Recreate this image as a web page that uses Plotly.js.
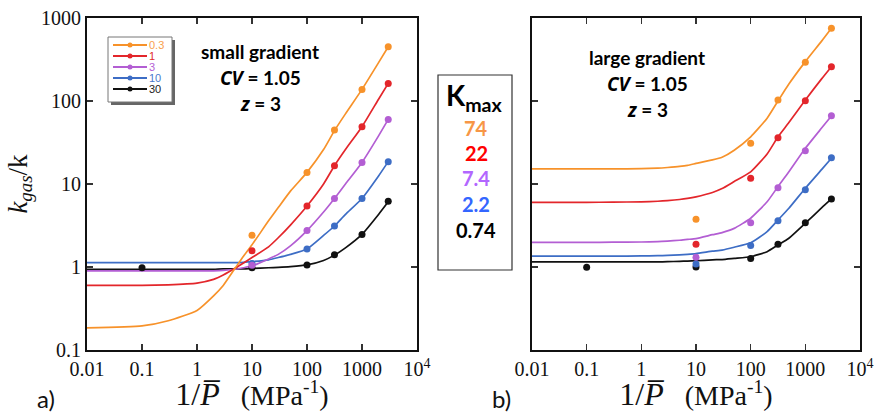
<!DOCTYPE html>
<html>
<head>
<meta charset="utf-8">
<script src="https://cdn.plot.ly/plotly-3.0.1.min.js"></script>
<style>html,body{margin:0;padding:0;background:#fff;}#chart{width:878px;height:412px;}</style>
</head>
<body>
<div id="chart"></div>
<script>
// ---------- data ----------
const seriesNames = ["0.3", "1", "3", "10", "30"];
const kmaxLabels = ["74", "22", "7.4", "2.2", "0.74"];
const xTickVals = [0.01, 0.1, 1, 10, 100, 1000, 10000];
const xTickText = ["0.01", "0.1", "1", "10", "100", "1000", "10<sup>4</sup>"];
const yTickVals = [0.1, 1, 10, 100, 1000];
const yTickText = ["0.1", "1", "10", "100", "1000"];

const curveX = [0.01, 0.1, 0.3, 1, 2, 3, 5, 7, 10, 20, 30, 50, 100, 200, 316, 500, 1000, 2000, 3000];
const pointX = [10, 100, 316, 1000, 3000];
const pointXBlack = [0.1, 10, 100, 316, 1000, 3000];

// panel a) small gradient
const aOrangeCurve = [0.185, 0.195, 0.225, 0.30, 0.45, 0.6, 0.98, 1.35, 1.85, 3.6, 5.2, 8.2, 13.8, 26, 44, 70, 138, 290, 450];
const aRedCurve    = [0.6, 0.6, 0.61, 0.64, 0.71, 0.8, 0.97, 1.12, 1.3, 1.75, 2.25, 3.2, 5.43, 10, 16.6, 26, 49, 105, 163];
const aPurpleCurve = [0.9, 0.9, 0.9, 0.9, 0.9, 0.91, 0.94, 0.98, 1.03, 1.25, 1.42, 1.8, 2.75, 4.6, 6.7, 10, 18.2, 38, 60];
const aBlueCurve   = [1.13, 1.13, 1.13, 1.13, 1.13, 1.13, 1.13, 1.14, 1.16, 1.22, 1.3, 1.42, 1.65, 2.4, 3.12, 4.3, 6.7, 12.5, 18.6];
const aBlackCurve  = [0.94, 0.94, 0.94, 0.94, 0.94, 0.95, 0.95, 0.95, 0.96, 0.98, 0.99, 1.01, 1.06, 1.2, 1.39, 1.7, 2.47, 4.3, 6.1];
const aOrangePts = [2.41, 13.8, 44.8, 138, 451];
const aRedPts    = [1.57, 5.43, 16.6, 49, 163];
const aPurplePts = [1.05, 2.75, 6.7, 18.2, 60];
const aBluePts   = [1.1, 1.65, 3.12, 6.7, 18.6];
const aBlackPts  = [0.98, 0.98, 1.06, 1.4, 2.47, 6.2];

// panel b) large gradient
const bOrangeCurve = [15.2, 15.2, 15.2, 15.3, 15.5, 15.8, 16.3, 16.8, 17.7, 19.5, 21, 25.5, 37, 62, 100, 160, 298, 530, 752];
const bRedCurve    = [6.0, 6.0, 6.05, 6.1, 6.2, 6.3, 6.5, 6.7, 7.0, 7.9, 8.8, 10.7, 14, 23, 37, 55, 103, 186, 259];
const bPurpleCurve = [1.98, 1.98, 1.99, 2.0, 2.02, 2.05, 2.1, 2.15, 2.2, 2.45, 2.6, 2.92, 3.87, 6.1, 9.3, 14, 26.9, 47.5, 66];
const bBlueCurve   = [1.35, 1.35, 1.35, 1.36, 1.37, 1.38, 1.4, 1.42, 1.45, 1.55, 1.6, 1.73, 1.96, 2.67, 3.68, 5.1, 8.9, 15.0, 20.4];
const bBlackCurve  = [1.15, 1.15, 1.15, 1.15, 1.15, 1.16, 1.17, 1.18, 1.19, 1.22, 1.23, 1.27, 1.33, 1.53, 1.84, 2.22, 3.37, 5.18, 6.6];
const bOrangePts = [3.76, 30.9, 103, 292, 752];
const bRedPts    = [1.88, 11.7, 36, 101, 259];
const bPurplePts = [1.31, 3.42, 9.0, 25.2, 66.5];
const bBluePts   = [1.09, 1.81, 3.62, 8.5, 20.7];
const bBlackPts  = [0.99, 1.0, 1.27, 1.88, 3.42, 6.6];

// ---------- styles ----------
const lineColors = ["#F7922A", "#E3262B", "#B35ED3", "#3D6DC5", "#111111"];
const legendTextColors = ["#F8A04E", "#E02A2A", "#B45FD6", "#4A78CC", "#222222"];
const kmaxColors = ["#F79646", "#FF0000", "#B266FF", "#3366FF", "#000000"];

const W = 878, H = 412;
const px = v => v / W;
const py = v => 1 - v / H;

const aCurves = [aOrangeCurve, aRedCurve, aPurpleCurve, aBlueCurve, aBlackCurve];
const aPts = [aOrangePts, aRedPts, aPurplePts, aBluePts, aBlackPts];
const bCurves = [bOrangeCurve, bRedCurve, bPurpleCurve, bBlueCurve, bBlackCurve];
const bPts = [bOrangePts, bRedPts, bPurplePts, bBluePts, bBlackPts];

const traces = [];
function addPanel(curves, pts, xa, ya) {
  for (let i = 4; i >= 0; i--) {
    traces.push({x: curveX, y: curves[i], xaxis: xa, yaxis: ya, mode: "lines",
      line: {color: lineColors[i], width: 1.7, shape: "spline", smoothing: 0.5}, showlegend: false, hoverinfo: "skip"});
  }
  for (let i = 4; i >= 0; i--) {
    traces.push({x: i === 4 ? pointXBlack : pointX, y: pts[i], xaxis: xa, yaxis: ya, mode: "markers",
      marker: {color: lineColors[i], size: 7}, showlegend: false, hoverinfo: "skip"});
  }
}
addPanel(aCurves, aPts, "x", "y");
addPanel(bCurves, bPts, "x2", "y2");

const tickFont = {family: "Liberation Serif, serif", size: 20, color: "#111"};
const xTitle = {text: "<span style=\"font-size:32px\">1/<i>P\u0305</i></span>   (MPa<sup>-1</sup>)", font: {family: "Liberation Serif, serif", size: 28, color: "#111"}, standoff: 9};

function xAxis(domain, anchor) {
  return {type: "log", domain: domain, anchor: anchor, range: [-2, 4], tickvals: xTickVals, ticktext: xTickText,
    ticks: "inside", ticklen: 6, tickwidth: 1.2, tickcolor: "#333", mirror: "ticks", showline: true, linecolor: "#111", linewidth: 2,
    showgrid: false, zeroline: false, tickfont: tickFont, title: xTitle, automargin: false};
}
function yAxis(anchor, showLabels) {
  return {type: "log", domain: [1 - 350 / H, 1 - 18 / H], anchor: anchor, range: [-1, 3], tickvals: yTickVals, ticktext: yTickText,
    ticks: "inside", ticklen: 6, tickwidth: 1.2, tickcolor: "#333", mirror: "ticks", showline: true, linecolor: "#111", linewidth: 2,
    showgrid: false, zeroline: false, tickfont: tickFont, showticklabels: showLabels, automargin: false};
}

const shapes = [];
const annotations = [];

// legend (panel a)
shapes.push({type: "rect", xref: "paper", yref: "paper", x0: px(111), x1: px(175), y0: py(105), y1: py(40), fillcolor: "#666", line: {width: 0}});
shapes.push({type: "rect", xref: "paper", yref: "paper", x0: px(108), x1: px(172), y0: py(102), y1: py(37), fillcolor: "#fff", line: {color: "#777", width: 1}});
const legRows = [45, 56, 67, 78, 89];
for (let i = 0; i < 5; i++) {
  const yy = legRows[i];
  shapes.push({type: "line", xref: "paper", yref: "paper", x0: px(113), x1: px(147), y0: py(yy), y1: py(yy), line: {color: lineColors[i], width: 1.8}});
  shapes.push({type: "circle", xref: "paper", yref: "paper", x0: px(127.5), x1: px(132.5), y0: py(yy + 2.5), y1: py(yy - 2.5), fillcolor: lineColors[i], line: {width: 0}});
  annotations.push({xref: "paper", yref: "paper", x: px(148), y: py(yy), xanchor: "left", yanchor: "middle", showarrow: false,
    borderpad: 0, text: seriesNames[i], font: {family: "Liberation Sans, Arial, sans-serif", size: 11, color: legendTextColors[i]}});
}

// panel text
const labFont = {family: "Lato, sans-serif", size: 19, color: "#000", weight: 700};
const it = s => "<span style=\"font-family:'Open Sans'\"><i>" + s + "</i></span>";
function panelText(cx, ys, first) {
  const texts = ["<b>" + first + "</b>", "<b>" + it("CV") + " = 1.05</b>", "<b>" + it("z") + " = 3</b>"];
  for (let k = 0; k < 3; k++) {
    annotations.push({xref: "paper", yref: "paper", x: px(cx), y: py(ys[k]), xanchor: "center", yanchor: "middle", showarrow: false, text: texts[k], font: labFont});
  }
}
panelText(260, [52, 78, 104], "small gradient");
panelText(647, [58, 84, 110], "large gradient");

// Kmax box
shapes.push({type: "rect", xref: "paper", yref: "paper", x0: px(438), x1: px(512), y0: py(270), y1: py(75), line: {color: "#333", width: 1.2}, fillcolor: "rgba(0,0,0,0)"});
annotations.push({xref: "paper", yref: "paper", x: px(475), y: py(97), xanchor: "center", yanchor: "middle", showarrow: false,
  text: "<b>K<sub>max</sub></b>", font: {family: "Lato, sans-serif", size: 28, color: "#000"}});
const kRows = [128, 153, 178, 204, 230];
for (let i = 0; i < 5; i++) {
  annotations.push({xref: "paper", yref: "paper", x: px(476), y: py(kRows[i]), xanchor: "center", yanchor: "middle", showarrow: false,
    text: "<b>" + kmaxLabels[i] + "</b>", font: {family: "Lato, sans-serif", size: 20, color: kmaxColors[i]}});
}

// panel letters
annotations.push({xref: "paper", yref: "paper", x: px(46), y: py(398), xanchor: "center", yanchor: "middle", showarrow: false, text: "a)", font: {family: "Lato, sans-serif", size: 24, color: "#111"}});
annotations.push({xref: "paper", yref: "paper", x: px(501), y: py(398), xanchor: "center", yanchor: "middle", showarrow: false, text: "b)", font: {family: "Lato, sans-serif", size: 24, color: "#111"}});

const layout = {
  width: W, height: H, margin: {l: 0, r: 0, t: 0, b: 0, pad: 0},
  paper_bgcolor: "#fff", plot_bgcolor: "#fff", showlegend: false,
  xaxis: xAxis([87 / W, 417 / W], "y"),
  yaxis: Object.assign(yAxis("x", true), {title: {text: "<i>k</i><sub><i>gas</i></sub>/k", font: {family: "Liberation Serif, serif", size: 27, color: "#111"}, standoff: 6}}),
  xaxis2: xAxis([532 / W, 860 / W], "y2"),
  yaxis2: yAxis("x2", false),
  shapes: shapes, annotations: annotations
};

Plotly.newPlot("chart", traces, layout, {staticPlot: true, displayModeBar: false});
</script>
</body>
</html>
